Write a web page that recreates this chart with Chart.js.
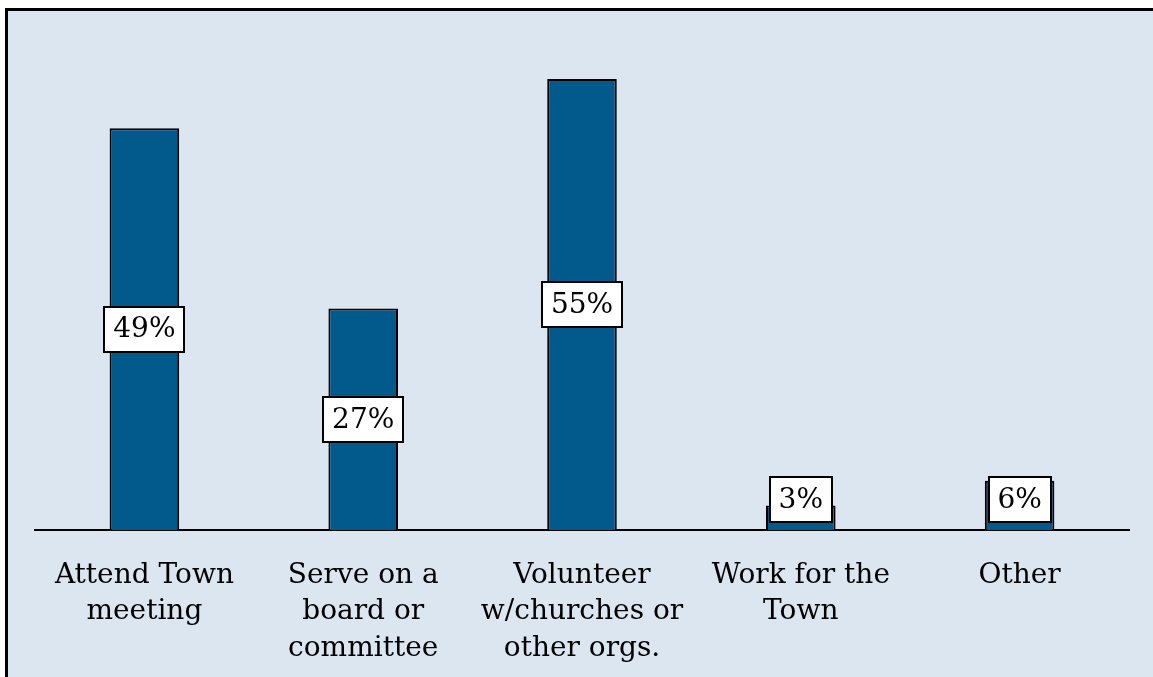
<!DOCTYPE html>
<html>
<head>
<meta charset="utf-8">
<script src="https://cdn.jsdelivr.net/npm/chart.js@4/dist/chart.umd.min.js"></script>
<style>
  html, body { margin: 0; padding: 0; background: #ffffff; }
  #wrap { position: relative; width: 1153px; height: 677px; }
</style>
</head>
<body>
<div id="wrap"><canvas id="chart" width="1153" height="677"></canvas></div>
<script>
// Survey: ways residents take part in community life (% of respondents)
const categories = [
  ["Attend Town", "meeting"],
  ["Serve on a", "board or", "committee"],
  ["Volunteer", "w/churches or", "other orgs."],
  ["Work for the", "Town"],
  ["Other"]
];
const percentValues = [49, 27, 55, 3, 6];
const valueLabels = percentValues.map(v => v + "%");

const FONT = "'DejaVu Serif', serif";

// Panel background with a heavy rule along its top and left edges
const panelPlugin = {
  id: "panel",
  beforeDraw(chart) {
    const { ctx, width, height } = chart;
    ctx.save();
    ctx.fillStyle = "#ffffff";
    ctx.fillRect(0, 0, width, height);
    ctx.fillStyle = "#000000";
    ctx.fillRect(5, 8, width - 5, height - 8);
    ctx.fillStyle = "#dce6f0";
    ctx.fillRect(8, 11, width - 8, height - 11);
    ctx.restore();
  }
};

// Boxed value labels, centred on each bar, lifted clear of the axis for short bars
const boxLabelPlugin = {
  id: "boxLabels",
  afterDatasetsDraw(chart) {
    const { ctx } = chart;
    const meta = chart.getDatasetMeta(0);
    const base = chart.scales.y.getPixelForValue(0);
    ctx.save();
    ctx.font = "28px " + FONT;
    ctx.textAlign = "center";
    ctx.textBaseline = "middle";
    meta.data.forEach((bar, i) => {
      const text = valueLabels[i];
      const w = Math.round(ctx.measureText(text).width + 18);
      const h = 45;
      let cy = (bar.y + bar.base) / 2;
      if (cy + h / 2 > base - 8) cy = base - 8 - h / 2;
      const x0 = Math.round(bar.x - w / 2);
      const y0 = Math.round(cy - h / 2);
      ctx.fillStyle = "#ffffff";
      ctx.fillRect(x0, y0, w, h);
      ctx.strokeStyle = "#000000";
      ctx.lineWidth = 2;
      ctx.strokeRect(x0, y0, w, h);
      ctx.fillStyle = "#000000";
      ctx.fillText(text, bar.x, cy + 1);
    });
    ctx.restore();
  }
};

new Chart(document.getElementById("chart"), {
  type: "bar",
  data: {
    labels: categories,
    datasets: [{
      data: percentValues,
      backgroundColor: "#02598c",
      borderColor: "#000000",
      borderWidth: 2,
      borderSkipped: "bottom",
      categoryPercentage: 1,
      barPercentage: 0.318
    }]
  },
  options: {
    responsive: false,
    animation: false,
    devicePixelRatio: 1,
    layout: { padding: { left: 35, right: 24, top: 38, bottom: 0 } },
    plugins: {
      legend: { display: false },
      tooltip: { enabled: false }
    },
    scales: {
      x: {
        grid: { display: false, drawTicks: false },
        border: { display: true, color: "#000000", width: 2 },
        ticks: {
          color: "#000000",
          font: { family: FONT, size: 28, lineHeight: 1.29 },
          padding: 28,
          maxRotation: 0,
          autoSkip: false
        },
        afterFit(scale) { scale.height = 147; }
      },
      y: {
        display: false,
        min: 0,
        max: 60
      }
    }
  },
  plugins: [panelPlugin, boxLabelPlugin]
});
</script>
</body>
</html>
